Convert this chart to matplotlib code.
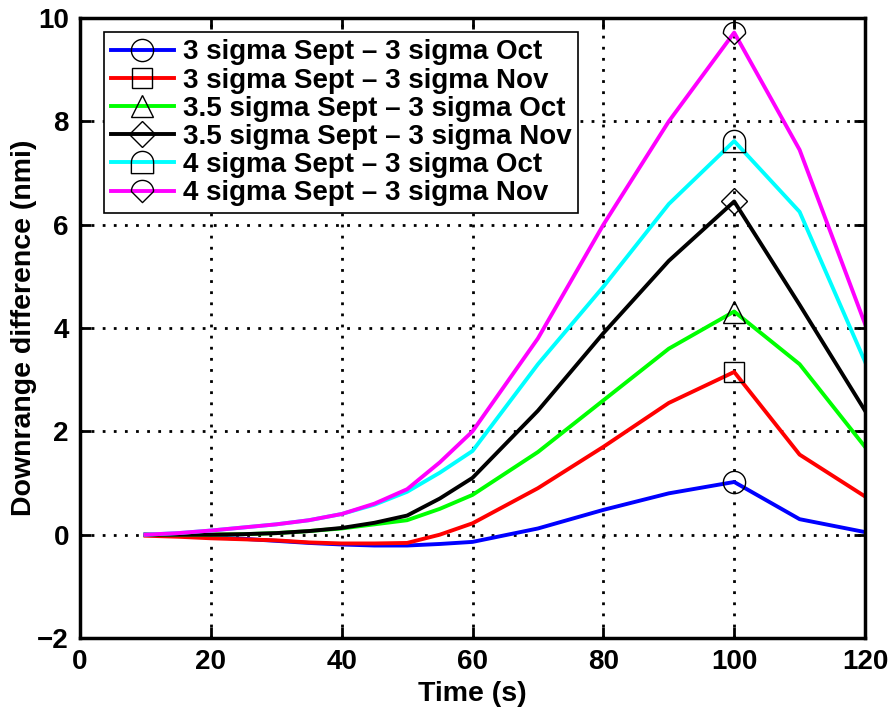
import numpy as np
import matplotlib
matplotlib.use("Agg")
import matplotlib.pyplot as plt
from matplotlib.path import Path

plt.rcParams['font.family'] = ['Liberation Sans', 'DejaVu Sans']
plt.rcParams['font.weight'] = 'bold'

time_s = [10, 15, 20, 25, 30, 35, 40, 45, 50, 55, 60, 70, 80, 90, 100, 110, 120]

labels = [
    "3 sigma Sept \u2013 3 sigma Oct",
    "3 sigma Sept \u2013 3 sigma Nov",
    "3.5 sigma Sept \u2013 3 sigma Oct",
    "3.5 sigma Sept \u2013 3 sigma Nov",
    "4 sigma Sept \u2013 3 sigma Oct",
    "4 sigma Sept \u2013 3 sigma Nov",
]

s3_oct  = [0.00, -0.02, -0.05, -0.08, -0.12, -0.16, -0.19, -0.21, -0.21, -0.18, -0.14, 0.12, 0.48, 0.80, 1.02, 0.30, 0.05]
s3_nov  = [-0.02, -0.04, -0.07, -0.09, -0.11, -0.15, -0.17, -0.17, -0.16, 0.00, 0.22, 0.90, 1.70, 2.55, 3.15, 1.55, 0.74]
s35_oct = [0.00, 0.00, 0.00, 0.01, 0.03, 0.07, 0.12, 0.20, 0.28, 0.50, 0.77, 1.60, 2.60, 3.60, 4.32, 3.30, 1.70]
s35_nov = [0.00, 0.00, 0.00, 0.01, 0.03, 0.07, 0.13, 0.23, 0.37, 0.70, 1.10, 2.40, 3.90, 5.30, 6.45, 4.45, 2.40]
s4_oct  = [0.00, 0.03, 0.08, 0.14, 0.20, 0.28, 0.40, 0.58, 0.83, 1.20, 1.62, 3.30, 4.80, 6.40, 7.62, 6.25, 3.35]
s4_nov  = [0.00, 0.03, 0.08, 0.14, 0.20, 0.28, 0.40, 0.60, 0.88, 1.40, 2.00, 3.80, 6.00, 8.00, 9.72, 7.45, 4.08]

series = [s3_oct, s3_nov, s35_oct, s35_nov, s4_oct, s4_nov]
colors = ['#0000ff', '#ff0000', '#00ff00', '#000000', '#00ffff', '#ff00ff']

# custom "dome" markers (circle top + square / diamond bottom)
th = np.linspace(0, np.pi, 25)
arc = np.column_stack([np.cos(th), np.sin(th)])
dome_sq = Path(np.vstack([arc, [[-1, -1], [1, -1], [1, 0]]]))
dome_di = Path(np.vstack([arc, [[0, -1], [1, 0]]]))
markers = ['o', 's', '^', 'D', dome_sq, dome_di]
msizes = [16, 14, 16, 13, 16, 16]

fig = plt.figure(figsize=(8.95, 7.24), dpi=100)
ax = fig.add_axes([0.0894, 0.1188, 0.8771, 0.8562])

mark_idx = [time_s.index(100)]
for y, c, m, ms, lab in zip(series, colors, markers, msizes, labels):
    ax.plot(time_s, y, color=c, lw=2.8, marker=m, markevery=mark_idx,
            markersize=ms, markerfacecolor='none', markeredgecolor='black',
            markeredgewidth=1.0, label=lab)

ax.set_xlim(0, 120)
ax.set_ylim(-2, 10)
ax.set_xticks(np.arange(0, 121, 20))
ax.set_yticks(np.arange(-2, 11, 2))
ax.set_yticklabels(['\u22122', '0', '2', '4', '6', '8', '10'])
ax.grid(True, color='black', linestyle=(0, (1, 3)), linewidth=2.0)
ax.tick_params(direction='in', length=8, width=2, top=True, right=True,
               labelsize=20, pad=8)
for lab in ax.get_xticklabels() + ax.get_yticklabels():
    lab.set_fontweight('bold')
for sp in ax.spines.values():
    sp.set_linewidth(2.5)

ax.set_xlabel("Time (s)", fontsize=20.5, fontweight='bold', labelpad=4)
ax.set_ylabel("Downrange difference (nmi)", fontsize=20.5, fontweight='bold', labelpad=0)

leg = ax.legend(loc='upper left', bbox_to_anchor=(0.03, 0.977), borderaxespad=0,
                frameon=True, fancybox=False, edgecolor='black',
                handlelength=2.3, handletextpad=0.3, labelspacing=0.08,
                borderpad=0.25, prop={'weight': 'bold', 'size': 20})
leg.get_frame().set_linewidth(1.2)
leg.get_frame().set_alpha(1)

fig.savefig("out.png", dpi=100)
